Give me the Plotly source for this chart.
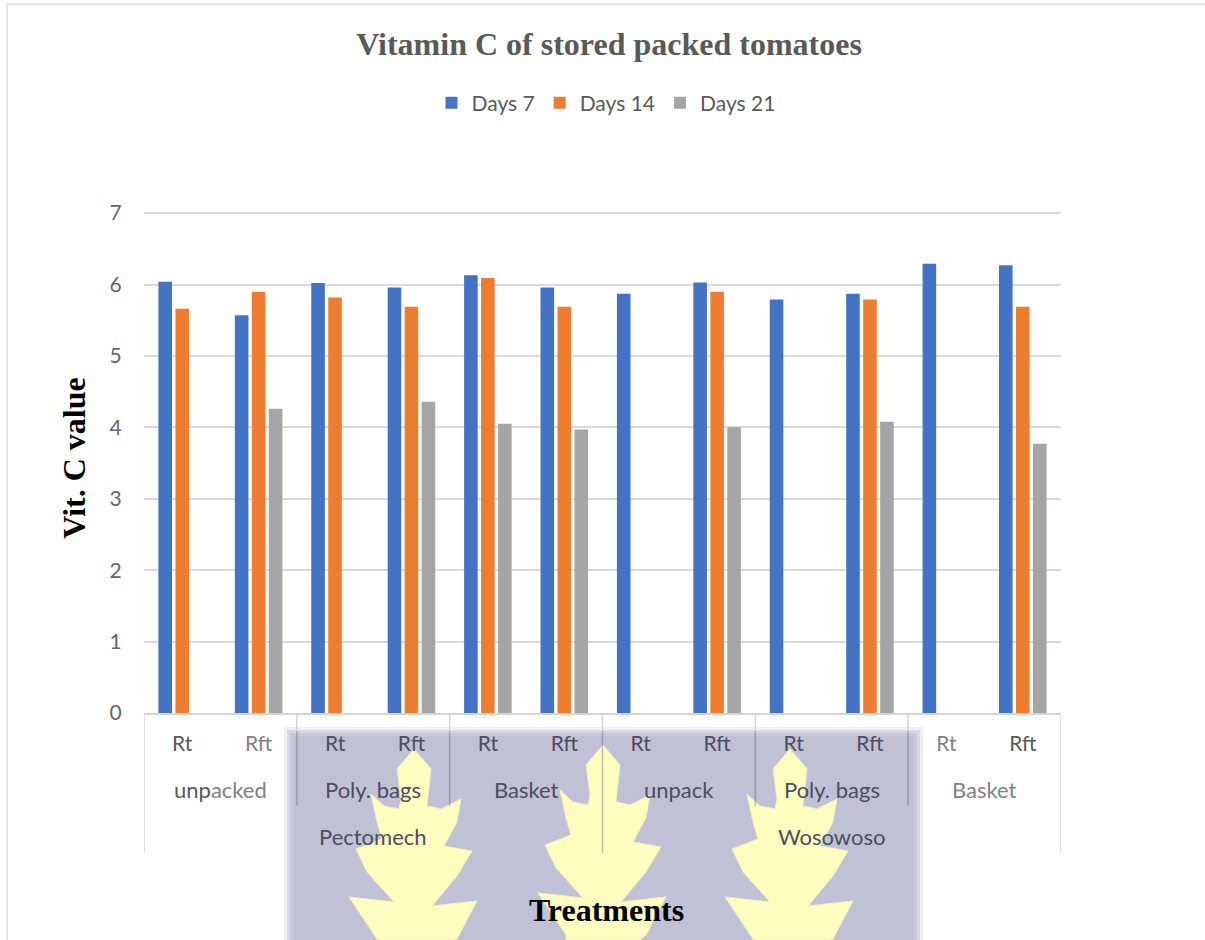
import plotly.graph_objects as go

W, H = 1205, 940
YMAX = 7.03
PL, PR, PB = 144, 1061, 713
PT = PB - 500 / 7 * YMAX

# ---- data ----
tick_labels = ["Rt", "Rft"] * 6
group_labels = ["unpacked", "Poly. bags", "Basket", "unpack", "Poly. bags", "Basket"]
top_labels = ["Pectomech", "Wosowoso"]
days_7 = [6.04, 5.57, 6.02, 5.96, 6.13, 5.96, 5.87, 6.03, 5.79, 5.87, 6.29, 6.27]
days_14 = [5.66, 5.90, 5.82, 5.69, 6.09, 5.69, None, 5.90, None, 5.79, None, 5.69]
days_21 = [None, 4.26, None, 4.36, 4.05, 3.97, None, 4.00, None, 4.08, None, 3.77]

DARK = "#4c4d60"
MID = "#595959"
LIGHT = "#828282"
tick_colors = [MID, LIGHT] + [DARK] * 8 + [LIGHT, MID]
positions = list(range(len(tick_labels)))
ticktext = [f'<span style="color:{c}">{t}</span>' for t, c in zip(tick_labels, tick_colors)]


def px(x):
    return (x - PL) / (PR - PL)


def py(y):
    return (PB - y) / (PB - PT)


FONT = "Lato, Carlito, Calibri, sans-serif"
SERIF = "'Liberation Serif', 'Times New Roman', serif"

fig = go.Figure()
for name, vals, col in [("Days 7", days_7, "#4472C4"),
                        ("Days 14", days_14, "#ED7D31"),
                        ("Days 21", days_21, "#A5A5A5")]:
    fig.add_bar(x=positions, y=vals, name=name, marker_color=col, marker_line_width=0)

shapes = []
# page border (top and left)
for (x0, y0, x1, y1) in [(7, 4, 1205, 4), (7, 4, 7, 940)]:
    shapes.append(dict(type="line", xref="paper", yref="paper", x0=px(x0), y0=py(y0), x1=px(x1), y1=py(y1),
                       line=dict(color="#dcdcdc", width=1.5), layer="below"))
# watermark panel with a soft edge
for (x0, y0, x1, col) in [(284, 727, 923, "#eeeef3"), (287, 730, 920, "#d8d9e5"),
                          (290, 733, 917, "#c8c9db"), (293, 736, 914, "#c0c1d5")]:
    shapes.append(dict(type="rect", xref="paper", yref="paper", x0=px(x0), y0=py(y0), x1=px(x1), y1=py(940),
                       fillcolor=col, line_width=0, layer="below"))
# watermark leaves: outline given as offsets from the leaf tip
leaf = [(0, 0), (-17, 20), (-13, 50), (-15, 60), (-30, 57), (-43, 45), (-37, 73), (-32, 90), (-58, 100),
        (-47, 123), (-20, 153), (-65, 148), (-37, 190), (-37, 200), (37, 200), (43, 190), (63, 152), (18, 157),
        (43, 127), (58, 102), (30, 97), (43, 73), (47, 50), (27, 60), (13, 57), (17, 20)]
for cx, tip in [(414, 749), (603, 745), (790, 749)]:
    path = ""
    for i, (dx, dy) in enumerate(leaf):
        path += f"{'M' if i == 0 else 'L'}{px(cx + dx):.5f},{py(min(tip + dy, 940)):.5f} "
    shapes.append(dict(type="path", xref="paper", yref="paper", path=path + "Z",
                       fillcolor="#fdfdbf", line=dict(color="#f0f0c4", width=1), layer="below"))
# category separators, from the axis down
for i, b in enumerate([-0.5, 1.5, 3.5, 5.5, 7.5, 9.5, 11.5]):
    bottom = 853 if i in (0, 3, 6) else 806
    if i in (0, 6):
        spans = [(PB, bottom, "#d4d4d4")]
    else:
        spans = [(PB, 731, "#d4d4d4"), (731, bottom, "rgba(80,80,100,0.35)")]
    for top, end, col in spans:
        shapes.append(dict(type="line", xref="x", yref="paper", x0=b, x1=b, y0=py(top), y1=py(end),
                           line=dict(color=col, width=1.5), layer="above"))

annotations = []
group_text = [f'<span style="color:{MID}">unp</span><span style="color:{LIGHT}">acked</span>',
              *[f'<span style="color:{DARK}">{g}</span>' for g in group_labels[1:5]],
              f'<span style="color:{LIGHT}">{group_labels[5]}</span>']
for i, g in enumerate(group_text):
    annotations.append(dict(x=2 * i + 0.5, xref="x", y=py(790), yref="paper", text=g, showarrow=False,
                            yanchor="middle", font=dict(family=FONT, size=22)))
for i, t in enumerate(top_labels):
    annotations.append(dict(x=6 * i + 2.5, xref="x", y=py(837), yref="paper", text=t, showarrow=False,
                            yanchor="middle", font=dict(family=FONT, size=22, color=DARK)))

fig.update_layout(
    width=W, height=H, autosize=False,
    margin=dict(l=PL, r=W - PR, t=PT, b=H - PB, pad=0),
    paper_bgcolor="white", plot_bgcolor="rgba(0,0,0,0)",
    barmode="group", bargap=0.333, bargroupgap=0.2,
    title=dict(text="<b>Vitamin C of stored packed tomatoes</b>", x=609 / W, xanchor="center",
               y=1 - 44 / H, yanchor="middle", font=dict(family=SERIF, size=32, color="#595959")),
    legend=dict(orientation="h", x=px(606), xanchor="center", y=py(103), yanchor="middle",
                font=dict(family=FONT, size=21, color="#595959"), bgcolor="rgba(0,0,0,0)",
                itemclick=False, traceorder="normal"),
    xaxis=dict(tickmode="array", tickvals=positions, ticktext=ticktext, range=[-0.5, 11.5],
               showgrid=False, zeroline=False, showline=True, linecolor="#d4d4d4", linewidth=1.5,
               ticks="outside", ticklen=11, tickcolor="rgba(0,0,0,0)", tickfont=dict(family=FONT, size=21),
               tickangle=0, automargin=False,
               title=dict(text="<b>&nbsp;Treatments</b>", standoff=145,
                          font=dict(family=SERIF, size=32, color="#000000"))),
    yaxis=dict(range=[0, YMAX], dtick=1, showgrid=True, gridcolor="#dadada", gridwidth=1.5, zeroline=False,
               showline=False, ticks="outside", ticklen=17, tickcolor="rgba(0,0,0,0)",
               tickfont=dict(family=FONT, size=21, color="#666666"), automargin=False,
               title=dict(text="<b>&nbsp;Vit. C value</b>", standoff=14,
                          font=dict(family=SERIF, size=32, color="#000000"))),
    shapes=shapes, annotations=annotations,
)

fig.write_html("out.html", post_script="document.body.style.margin='0';",
               config={"displayModeBar": False})
